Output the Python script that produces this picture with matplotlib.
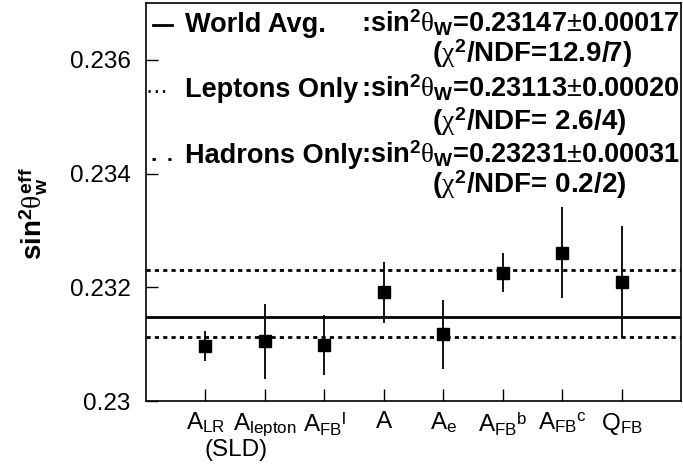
import matplotlib
matplotlib.use('Agg')
import matplotlib.pyplot as plt

plt.rcParams['font.family'] = 'Liberation Sans'
plt.rcParams['mathtext.fontset'] = 'custom'
plt.rcParams['mathtext.rm'] = 'Liberation Sans'
plt.rcParams['mathtext.it'] = 'Liberation Serif'
plt.rcParams['mathtext.bf'] = 'Liberation Sans:bold'

# measurements
labels = [r'A$_{\mathregular{LR}}$', r'A$_{\mathregular{lepton}}$',
          r'A$_{\mathregular{FB}}{}^{\mathregular{l}}$', 'A',
          r'A$_{\mathregular{e}}$', r'A$_{\mathregular{FB}}{}^{\mathregular{b}}$',
          r'A$_{\mathregular{FB}}{}^{\mathregular{c}}$', r'Q$_{\mathregular{FB}}$']
values = [0.23097, 0.23105, 0.23099, 0.23191, 0.23117, 0.23226, 0.23261, 0.23209]
errors = [0.00026, 0.00066, 0.00053, 0.00053, 0.00060, 0.00035, 0.00080, 0.00099]

# fit results
world_avg = 0.23147
leptons_avg = 0.23113
hadrons_avg = 0.23231

W, H = 683, 473
fig = plt.figure(figsize=(W / 100, H / 100), dpi=100)
ax = fig.add_axes([146 / W, 1 - 401 / H, (681 - 146) / W, (401 - 3) / H])

xs = list(range(1, len(values) + 1))
ax.axhline(world_avg, color='black', lw=2.0)
ax.axhline(leptons_avg, color='black', lw=2.0, dashes=(1.5, 1.5))
ax.axhline(hadrons_avg, color='black', lw=2.0, dashes=(1.5, 1.5))
ax.errorbar(xs, values, yerr=errors, fmt='s', color='black', ms=8,
            elinewidth=1.3, capsize=0)

ax.set_xlim(0, 9)
ax.set_ylim(0.23, 0.237)
ax.set_xticks(xs)
ax.set_xticklabels(labels, fontsize=17.5)
ax.set_yticks([0.23, 0.232, 0.234, 0.236])
ax.set_yticklabels(['0.23', '0.232', '0.234', '0.236'], fontsize=17.5)
ax.tick_params(direction='in', length=8.5, width=1, top=False, right=False)
ax.tick_params(axis='y', pad=11)
ax.tick_params(axis='x', pad=7)
for s in ax.spines.values():
    s.set_linewidth(1.2)

ax.text(1.52, -0.095, '(SLD)', transform=ax.get_xaxis_transform(),
        ha='center', va='top', fontsize=17.5)

fig.text(33 / W, 1 - 214 / H,
         r'sin$^{\mathregular{2}}\theta^{\mathregular{eff}}_{\mathregular{w}}$',
         rotation=90, ha='center', va='center', fontsize=20, fontweight='bold')

# legend block
rows = [
    ('World Avg.', r':sin$^{\mathregular{2}}\theta_{\mathregular{W}}$=0.23147$\pm$0.00017',
     r'($\chi^{\mathregular{2}}$/NDF=12.9/7)'),
    ('Leptons Only', r':sin$^{\mathregular{2}}\theta_{\mathregular{W}}$=0.23113$\pm$0.00020',
     r'($\chi^{\mathregular{2}}$/NDF= 2.6/4)'),
    ('Hadrons Only', r':sin$^{\mathregular{2}}\theta_{\mathregular{W}}$=0.23231$\pm$0.00031',
     r'($\chi^{\mathregular{2}}$/NDF= 0.2/2)'),
]
base = [32, 97, 163]
chi_base = [62, 130, 193]
for (name, fit, chi), y, yc in zip(rows, base, chi_base):
    fig.text(185 / W, 1 - y / H, name, fontsize=19.5, fontweight='bold', va='baseline')
    fig.text(361 / W, 1 - y / H, fit, fontsize=19.5, fontweight='bold', va='baseline')
    fig.text(432 / W, 1 - yc / H, chi, fontsize=20, fontweight='bold', va='baseline')

fig.add_artist(plt.Line2D([153 / W, 172 / W], [1 - 25 / H, 1 - 25 / H],
                          color='black', lw=2.0))
fig.add_artist(plt.Line2D([148 / W, 165 / W], [1 - 91 / H, 1 - 91 / H],
                          color='black', lw=2.0, dashes=(0.8, 1.8)))
fig.add_artist(plt.Line2D([152 / W, 171 / W], [1 - 159 / H, 1 - 159 / H],
                          color='black', lw=2.0, dashes=(1.2, 4.5)))

fig.savefig('out.png', dpi=100)
